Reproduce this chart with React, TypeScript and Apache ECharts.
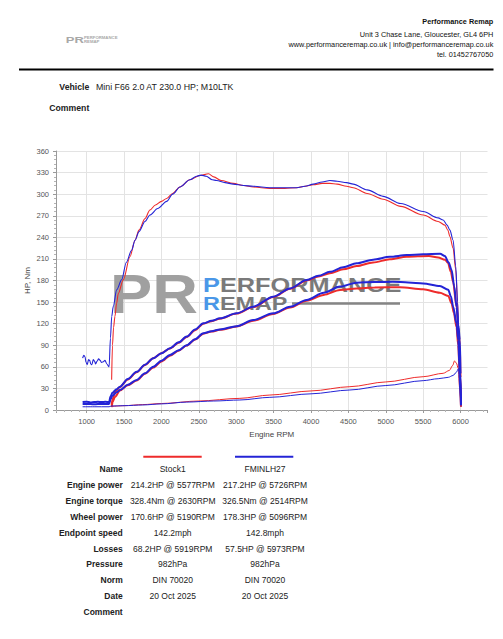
import React, { useEffect, useRef } from "react";
import * as echarts from "echarts";

const FONT = "'Liberation Sans', Arial, Helvetica, sans-serif";
const RED = "#ee2b2b";
const BLUE = "#2424d6";

// ---------- header texts ----------
const headerLines = [
  "Performance Remap",
  "Unit 3 Chase Lane, Gloucester, GL4 6PH",
  "www.performanceremap.co.uk | info@performanceremap.co.uk",
  "tel. 01452767050",
];
const vehicleLabel = "Vehicle";
const vehicleValue = "Mini F66 2.0 AT 230.0 HP; M10LTK";
const commentLabel = "Comment";

// ---------- table ----------
const tableLabels = [
  "Name", "Engine power", "Engine torque", "Wheel power", "Endpoint speed",
  "Losses", "Pressure", "Norm", "Date", "Comment",
];
const stockValues = [
  "Stock1", "214.2HP @ 5577RPM", "328.4Nm @ 2630RPM", "170.6HP @ 5190RPM", "142.2mph",
  "68.2HP @ 5919RPM", "982hPa", "DIN 70020", "20 Oct 2025", "",
];
const tunedValues = [
  "FMINLH27", "217.2HP @ 5726RPM", "326.5Nm @ 2514RPM", "178.3HP @ 5096RPM", "142.8mph",
  "57.5HP @ 5973RPM", "982hPa", "DIN 70020", "20 Oct 2025", "",
];

// ---------- curves: [rpm, value] ----------
const stockTorque = [
  [1334, 42], [1345, 90], [1360, 115], [1378, 130], [1400, 148], [1423, 162], [1490, 181],
  [1579, 213], [1647, 236], [1700, 250], [1780, 266], [1846, 278], [1920, 285], [2000, 290],
  [2070, 294], [2150, 301], [2247, 310], [2380, 320], [2515, 326], [2630, 328.4], [2700, 324],
  [2800, 319], [2960, 315], [3100, 312], [3227, 310], [3450, 308], [3650, 308], [3807, 309],
  [3920, 311], [4030, 313], [4150, 315], [4253, 315], [4350, 314], [4476, 311], [4565, 309],
  [4750, 301], [4965, 293], [5200, 283], [5500, 271], [5700, 262], [5790, 257], [5830, 250],
  [5857, 241], [5900, 225], [5935, 195], [5960, 150], [5975, 105], [5990, 55], [6004, 5],
];
const stockEnginePower = [
  [1334, 7], [1350, 16], [1378, 25], [1445, 32], [1550, 42.5], [1668, 52.5], [1780, 62.5],
  [1890, 72], [2000, 79], [2114, 85.5], [2230, 93.5], [2337, 101.5], [2450, 111], [2560, 120],
  [2670, 123.5], [2782, 127], [3005, 134], [3227, 143], [3495, 157], [3720, 168.5], [3941, 180],
  [4100, 185.5], [4253, 190], [4430, 195.5], [4610, 200], [4830, 205], [5055, 209.5],
  [5278, 213], [5577, 214.2], [5700, 212], [5790, 209], [5830, 205], [5870, 192], [5900, 178],
  [5946, 143], [5970, 115], [5990, 90], [6000, 45], [6006, 5],
];
const stockWheelPower = [
  [1334, 4], [1350, 12], [1378, 18], [1445, 27], [1550, 34.5], [1668, 41], [1780, 50.5],
  [1890, 59], [2000, 67.5], [2114, 75.5], [2230, 82.5], [2337, 89.5], [2450, 98], [2560, 106],
  [2670, 109], [2782, 111.5], [3005, 116], [3227, 124], [3495, 133.5], [3720, 142.5],
  [3941, 152], [4170, 160], [4388, 166.8], [4610, 169], [4850, 170.3], [5190, 170.6],
  [5500, 167.8], [5723, 163], [5835, 158.5], [5880, 148], [5910, 135], [5946, 115],
  [5968, 90], [5990, 48], [6005, 5],
];
const stockLosses = [
  [1334, 5], [1500, 6], [1750, 7.5], [2000, 9], [2500, 12.5], [3049, 16.2], [3450, 20.8],
  [4000, 26.5], [4520, 32.4], [5000, 39], [5500, 46.3], [5767, 51], [5850, 55], [5895, 62],
  [5919, 68.2], [5945, 65], [5968, 58], [5988, 30], [6005, 5],
];

const tunedTorque = [
  [946, 72], [962, 76], [978, 74], [992, 66], [1008, 63], [1025, 70], [1040, 69], [1055, 64],
  [1070, 63], [1088, 70], [1105, 68], [1120, 64], [1140, 68], [1160, 71], [1180, 69],
  [1200, 66], [1220, 67], [1245, 69], [1270, 64], [1300, 60], [1318, 100], [1335, 130],
  [1356, 144], [1401, 167], [1468, 181], [1530, 205], [1601, 222], [1647, 236], [1700, 248],
  [1780, 262], [1846, 271], [1950, 280], [2070, 290], [2150, 300], [2247, 310], [2380, 320],
  [2470, 325], [2530, 326.5], [2600, 325], [2680, 320], [2738, 319], [2850, 316], [2960, 314],
  [3100, 312], [3227, 311], [3450, 309], [3650, 309], [3807, 309], [3920, 311], [4030, 314],
  [4150, 317], [4253, 319], [4350, 318], [4476, 316], [4565, 314], [4750, 306], [4965, 297],
  [5200, 287], [5500, 276], [5700, 267], [5767, 264], [5820, 257], [5857, 250], [5900, 236],
  [5935, 200], [5960, 150], [5975, 105], [5990, 55], [6004, 7],
];
const tunedEnginePower = [
  [946, 11], [1000, 11.5], [1050, 10.5], [1100, 11], [1150, 11.5], [1200, 11], [1250, 11.5],
  [1300, 11], [1320, 19], [1345, 24], [1400, 29], [1445, 32.4], [1550, 43], [1668, 53],
  [1780, 63], [1890, 72], [2000, 79], [2114, 86], [2230, 94], [2337, 102], [2450, 112],
  [2560, 120.5], [2670, 124], [2782, 127.4], [3005, 134.4], [3227, 143.6], [3495, 157.5],
  [3720, 169], [3941, 180.7], [4100, 186.5], [4253, 192], [4430, 198.5], [4610, 204],
  [4830, 209], [5055, 213], [5278, 215.4], [5500, 216.5], [5726, 217.2], [5790, 214],
  [5840, 205], [5880, 194.6], [5915, 172], [5946, 143.6], [5970, 118], [5990, 97],
  [6000, 50], [6006, 7],
];
const tunedWheelPower = [
  [946, 8.5], [1000, 8.5], [1100, 8], [1200, 8.5], [1300, 8.5], [1320, 15], [1345, 20],
  [1400, 24.5], [1445, 27.8], [1550, 35], [1668, 41.7], [1780, 51], [1890, 60], [2000, 68.5],
  [2114, 76.5], [2230, 83], [2337, 90], [2450, 98.5], [2560, 106.6], [2670, 109.5],
  [2782, 112], [3005, 116.5], [3227, 125], [3495, 134.4], [3720, 143.5], [3941, 153],
  [4170, 163], [4388, 171.5], [4610, 177], [4850, 177.8], [5096, 178.3], [5300, 177.3],
  [5500, 176], [5723, 172.4], [5835, 167], [5870, 158], [5901, 143.6], [5946, 120.5],
  [5968, 97], [5990, 50], [6005, 7],
];
const tunedLosses = [
  [946, 4.5], [1100, 4.5], [1300, 4.5], [1330, 5.5], [1500, 6], [1750, 7], [2000, 8.5],
  [2337, 11], [2700, 12.5], [3049, 13.9], [3450, 17.6], [4000, 22.5], [4520, 27.8],
  [5000, 34], [5500, 40.8], [5700, 43.5], [5835, 45.4], [5900, 48], [5940, 52],
  [5973, 57.5], [5990, 30], [6005, 5],
];

function lineSeries(name: string, data: number[][], color: string, width: number) {
  return {
    type: "line",
    name,
    data,
    symbol: "none",
    showSymbol: false,
    smooth: 0.3,
    smoothMonotone: "x",
    silent: true,
    z: 3,
    lineStyle: { color, width },
    itemStyle: { color },
  };
}

function txt(text: string, x: number, y: number, opts: any = {}) {
  return {
    type: "text",
    x,
    y,
    silent: true,
    z: opts.z ?? 5,
    scaleX: opts.scaleX ?? 1,
    style: {
      text,
      fill: opts.fill ?? "#222",
      font: `${opts.weight ?? "normal"} ${opts.size ?? 8.5}px ${FONT}`,
      textAlign: opts.align ?? "left",
      textVerticalAlign: "middle",
    },
  };
}

function buildGraphics() {
  const g: any[] = [];
  // header
  const hy = [21.7, 34, 44.3, 54.3];
  headerLines.forEach((t, i) =>
    g.push(txt(t, 493.3, hy[i], { align: "right", size: 7.3, weight: i === 0 ? "bold" : "normal", fill: "#111" }))
  );
  g.push({ type: "line", silent: true, shape: { x1: 19, y1: 69.5, x2: 493.5, y2: 69.5 }, style: { stroke: "#000", lineWidth: 2 } });
  // small header logo
  g.push(txt("PR", 65.7, 40, { size: 9, weight: "bold", fill: "#a8a8a8", scaleX: 1.45 }));
  g.push(txt("PERFORMANCE", 84, 38.3, { size: 3.3, weight: "bold", fill: "#a8a8a8", scaleX: 1.3 }));
  g.push(txt("REMAP", 84, 41.7, { size: 3.3, weight: "bold", fill: "#a8a8a8", scaleX: 1.3 }));

  g.push(txt(vehicleLabel, 89.3, 87.3, { align: "right", size: 8.7, weight: "bold" }));
  g.push(txt(vehicleValue, 96, 87.3, { size: 8.8 }));
  g.push(txt(commentLabel, 89.3, 108.3, { align: "right", size: 8.7, weight: "bold" }));

  // watermark
  g.push({
    type: "text", x: 110, y: 293.5, z: 1, silent: true, scaleX: 1.13,
    style: {
      text: "PR",
      font: `bold 56px ${FONT}`,
      textVerticalAlign: "middle",
      fill: "#a0a0a0",
    },
  });
  const rich = {
    b: { fill: "#4a97e8", font: `bold 19.5px ${FONT}` },
    g: { fill: "#7a7a7a", font: `bold 19.5px ${FONT}` },
  };
  g.push({
    type: "text", x: 203, y: 285.5, z: 1, silent: true, scaleX: 1.3,
    style: { text: "{b|P}{g|ERFORMANCE}", rich, textVerticalAlign: "middle", font: `bold 19.5px ${FONT}` },
  });
  const rich2 = {
    b: { fill: "#4a97e8", font: `bold 18px ${FONT}` },
    g: { fill: "#7a7a7a", font: `bold 18px ${FONT}` },
  };
  g.push({
    type: "text", x: 203, y: 304, z: 1, silent: true, scaleX: 1.3,
    style: { text: "{b|R}{g|EMAP}", rich: rich2, textVerticalAlign: "middle", font: `bold 18px ${FONT}` },
  });
  g.push({ type: "line", z: 1, silent: true, shape: { x1: 292, y1: 303.5, x2: 400, y2: 303.5 }, style: { stroke: "#858585", lineWidth: 2.5 } });

  // table
  g.push({ type: "line", silent: true, shape: { x1: 143.3, y1: 456.7, x2: 201.7, y2: 456.7 }, style: { stroke: RED, lineWidth: 2 } });
  g.push({ type: "line", silent: true, shape: { x1: 235, y1: 456.7, x2: 293.3, y2: 456.7 }, style: { stroke: BLUE, lineWidth: 2 } });
  tableLabels.forEach((lab, i) => {
    const y = 469 + i * 15.9;
    g.push(txt(lab, 122.7, y, { align: "right", weight: "bold", size: 8.5 }));
    if (stockValues[i]) g.push(txt(stockValues[i], 172.7, y, { align: "center", size: 8.5 }));
    if (tunedValues[i]) g.push(txt(tunedValues[i], 265, y, { align: "center", size: 8.5 }));
  });
  return g;
}

export default function App() {
  const ref = useRef<HTMLDivElement>(null);
  useEffect(() => {
    if (!ref.current) return;
    const chart = echarts.init(ref.current, undefined, { renderer: "svg" });
    chart.setOption({
      animation: false,
      backgroundColor: "#ffffff",
      textStyle: { fontFamily: FONT },
      grid: { left: 56, top: 151, right: 15.5, bottom: 229, containLabel: false },
      xAxis: {
        type: "value",
        min: 590,
        max: 6360,
        splitNumber: 11,
        name: "Engine RPM",
        nameLocation: "middle",
        nameGap: 20,
        nameMoveOverlap: false,
        nameTextStyle: { fontSize: 8, color: "#444", fontFamily: FONT },
        axisLine: { show: true, lineStyle: { color: "#9a9a9a", width: 1 } },
        axisTick: { show: true, length: 3, lineStyle: { color: "#9a9a9a" } },
        minorTick: { show: true, splitNumber: 5, length: 2, lineStyle: { color: "#b5b5b5" } },
        axisLabel: {
          fontSize: 7.5, color: "#555", margin: 7, showMinLabel: false, showMaxLabel: false, fontFamily: FONT,
          formatter: (v: number) => String(Math.round(v)),
        },
        splitLine: { show: true, showMinLine: false, showMaxLine: false, lineStyle: { color: "#e3e3e3", width: 1 } },
      },
      yAxis: {
        type: "value",
        min: 0,
        max: 360,
        interval: 30,
        name: "HP, Nm",
        nameLocation: "middle",
        nameGap: 25,
        nameMoveOverlap: false,
        nameTextStyle: { fontSize: 8, color: "#444", fontFamily: FONT },
        axisLine: { show: true, lineStyle: { color: "#9a9a9a", width: 1 } },
        axisTick: { show: true, length: 3, lineStyle: { color: "#9a9a9a" } },
        minorTick: { show: true, splitNumber: 5, length: 2, lineStyle: { color: "#b5b5b5" } },
        axisLabel: { fontSize: 7.5, color: "#555", margin: 7, fontFamily: FONT },
        splitLine: { show: true, lineStyle: { color: "#e3e3e3", width: 1 } },
      },
      series: [
        lineSeries("Stock1 torque", stockTorque, RED, 1.1),
        lineSeries("Stock1 engine power", stockEnginePower, RED, 2),
        lineSeries("Stock1 wheel power", stockWheelPower, RED, 2),
        lineSeries("Stock1 losses", stockLosses, RED, 1),
        lineSeries("FMINLH27 torque", tunedTorque, BLUE, 1.1),
        lineSeries("FMINLH27 engine power", tunedEnginePower, BLUE, 2),
        lineSeries("FMINLH27 wheel power", tunedWheelPower, BLUE, 2),
        lineSeries("FMINLH27 losses", tunedLosses, BLUE, 1),
      ],
      graphic: buildGraphics(),
    });
    return () => chart.dispose();
  }, []);
  return (
    <div
      ref={ref}
      style={{ position: "absolute", left: 0, top: 0, width: 503, height: 639 }}
    />
  );
}
